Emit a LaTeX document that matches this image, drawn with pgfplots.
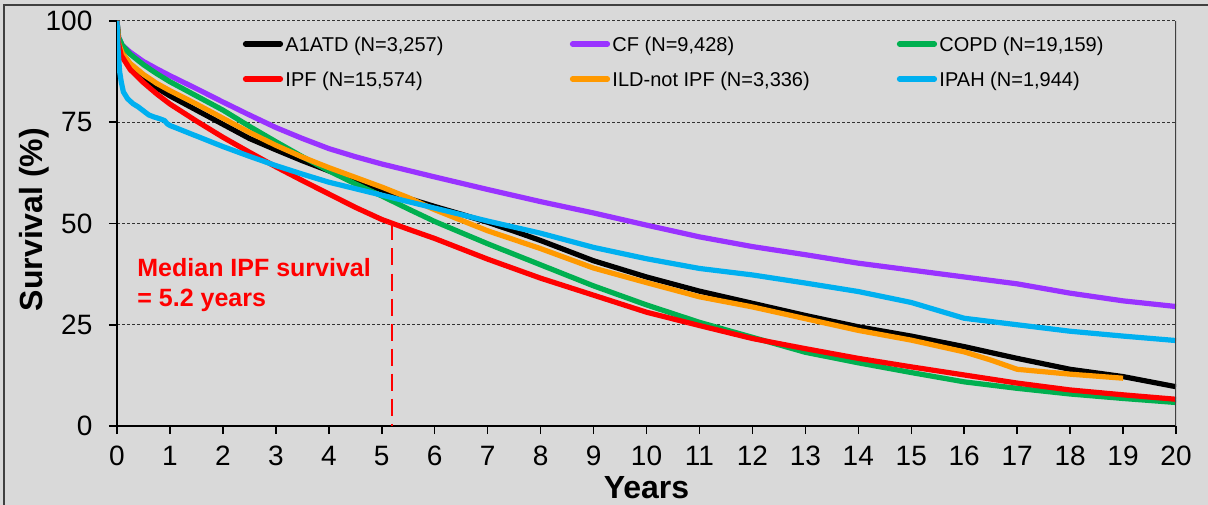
\documentclass[border=0pt]{standalone}
\usepackage{pgfplots}
\pgfplotsset{compat=1.18}
\usepackage{fontspec}
\setmainfont{Liberation Sans}

\definecolor{bgc}{HTML}{D9D9D9}
\definecolor{frm}{HTML}{404040}
\definecolor{cfpurple}{HTML}{9933FF}
\definecolor{copdgreen}{HTML}{00B050}
\definecolor{ildorange}{HTML}{FF9900}
\definecolor{ipahblue}{HTML}{00B0F0}
\definecolor{ipfred}{HTML}{FF0000}

\begin{document}
\begin{tikzpicture}
% grey page and its frame (left and top edge show)
\fill[bgc] (-58.5bp,-39.5bp) rectangle (545.5bp,213bp);
\draw[frm, line width=0.6bp] (-56.5bp,-39.5bp) -- (-56.5bp,210.5bp) -- (545.5bp,210.5bp);

\begin{axis}[
   at={(0,0)}, anchor=south west,
   scale only axis,
   width=529.5bp, height=202.5bp,
   xmin=0, xmax=20, ymin=0, ymax=100,
   axis lines*=left,
   axis line style={black, line width=1bp},
   xtick={0,1,...,20},
   ytick={0,25,50,75,100},
   tick align=outside,
   major tick length=4bp,
   tick style={black, line width=0.75bp},
   ymajorgrids=true,
   grid style={black!80, line width=0.5bp, dash pattern=on 1.5bp off 1bp},
   /pgf/number format/assume math mode=true,
   tick label style={font=\fontsize{14bp}{16bp}\selectfont},
   xticklabel style={anchor=center, yshift=-11bp},
   yticklabel style={anchor=east, xshift=-4.8bp},
   xlabel={Years},
   ylabel={Survival (\%)},
   every axis x label/.style={at={(axis description cs:0.5,-0.18)}, anchor=base,
      font=\fontsize{16bp}{18bp}\selectfont\bfseries},
   every axis y label/.style={at={(axis description cs:-0.0699,0.51)}, anchor=base, rotate=90,
      font=\fontsize{16bp}{18bp}\selectfont\bfseries},
   legend columns=3,
   legend cell align=left,
   legend style={draw=none, fill=none, inner sep=0pt,
      at={(0.1185,0.9)}, anchor=west,
      column sep=0pt, row sep=7.5bp,
      font=\fontsize{10bp}{12bp}\selectfont,
      nodes={text height=8.6bp, text depth=1.4bp, inner ysep=0pt, inner xsep=1.2bp}},
   legend image code/.code={\draw[#1, line width=2.6bp, line cap=round] (0bp,0bp) -- (17.5bp,0bp);},
   every axis plot/.append style={line width=2.6bp, line join=round},
]

\addplot[cfpurple, forget plot] table {
0 100
0.03 96
0.1 94
0.25 92.3
0.5 90
0.75 88.2
1 86.5
1.5 83.3
2 80
2.5 76.8
3 73.7
3.5 71
4 68.5
4.5 66.5
5 64.7
6 61.5
7 58.4
8 55.4
9 52.6
10 49.6
11 46.7
12 44.3
13 42.3
14 40.2
15 38.5
16 36.8
17 35.1
18 32.8
19 30.9
20 29.5
};

\addplot[black, forget plot] table {
0 100
0.03 95
0.1 92
0.25 89.3
0.5 86.3
0.75 83.5
1 81.5
1.5 78
2 74.5
2.5 71
3 68.2
3.5 65.5
4 63
4.5 60.6
5 58.3
5.5 56.2
6 54.2
6.5 52.3
7 50.3
7.5 48.1
8 45.8
9 40.8
10 36.8
11 33.3
12 30.3
13 27.3
14 24.5
15 22.2
16 19.6
17 16.7
18 14.0
19 12.2
20 9.7
};

\addplot[copdgreen, forget plot] table {
0 100
0.03 96
0.1 94
0.25 91.8
0.5 89.2
0.75 87
1 85
1.5 81.5
2 78
2.5 74
3 70.2
3.5 66.5
4 63
4.5 59.8
5 56.8
5.5 53.6
6 50.5
7 45
8 39.8
9 34.6
10 29.9
11 25.6
12 21.9
13 18.2
14 15.6
15 13.2
16 10.9
17 9.3
18 7.9
19 6.8
20 5.8
};

\addplot[ildorange, forget plot] table {
0 100
0.03 94.5
0.1 92
0.25 89.5
0.5 86.8
0.75 84.6
1 82.8
1.5 79.5
2 76
2.5 72.5
3 69.3
3.5 66.4
4 63.8
4.5 61.4
5 59
5.5 56.4
6 53.4
7 48.2
8 43.8
9 39
10 35.4
11 31.9
12 29.4
13 26.5
14 23.6
15 21.2
16 18.3
16.5 16.3
17 14
18 12.8
19 11.8
};

\addplot[ipfred, forget plot] table {
0 100
0.02 95
0.08 91.5
0.25 88
0.5 84.8
0.75 82
1 79.5
1.5 75.3
2 71.3
2.5 67.6
3 64
3.5 60.6
4 57.3
4.5 54
5 51
5.5 48.6
6 46.3
7 41.2
8 36.5
9 32.3
10 28.1
11 24.8
12 21.6
13 19.1
14 16.7
15 14.6
16 12.6
17 10.6
18 8.9
19 7.7
20 6.6
};

\addplot[ipahblue, forget plot] table {
0 100
0.02 93
0.05 87.5
0.08 85
0.12 82.5
0.2 80.8
0.3 79.6
0.4 78.8
0.5 77.8
0.6 76.8
0.7 76.3
0.8 75.9
0.9 75.4
0.95 74.6
1 74.2
1.5 71.6
2 69
2.5 66.6
3 64.3
3.5 62.2
4 60.2
5 57
6 53.8
7 50.6
8 47.6
9 44.1
10 41.3
11 38.9
12 37.3
13 35.3
14 33.2
15 30.5
16 26.6
17 25
18 23.4
19 22.2
20 21.1
};

% median IPF marker
\addplot[ipfred, line width=1bp, dash pattern=on 8.5bp off 4bp, forget plot] coordinates {(5.2,50) (5.2,0)};
\node[anchor=base west, text=ipfred, font=\fontsize{12.5bp}{15bp}\selectfont\bfseries, inner sep=0pt]
   at (axis cs:0.378,36.8) {Median IPF survival};
\node[anchor=base west, text=ipfred, font=\fontsize{12.5bp}{15bp}\selectfont\bfseries, inner sep=0pt]
   at (axis cs:0.378,29.4) {= 5.2 years};

% right border of the plot area
\draw[frm, line width=0.85bp] (rel axis cs:1,0) -- (rel axis cs:1,1);

\addlegendimage{black}
\addlegendentry{\makebox[141bp][l]{A1ATD (N=3,257)}}
\addlegendimage{cfpurple}
\addlegendentry{\makebox[141bp][l]{CF (N=9,428)}}
\addlegendimage{copdgreen}
\addlegendentry{\makebox[141bp][l]{COPD (N=19,159)}}
\addlegendimage{ipfred}
\addlegendentry{\makebox[141bp][l]{IPF (N=15,574)}}
\addlegendimage{ildorange}
\addlegendentry{\makebox[141bp][l]{ILD-not IPF (N=3,336)}}
\addlegendimage{ipahblue}
\addlegendentry{\makebox[141bp][l]{IPAH (N=1,944)}}
\end{axis}
\pgfresetboundingbox
\path[use as bounding box] (-58.5bp,-39.5bp) rectangle (545.5bp,213bp);
\end{tikzpicture}
\end{document}
